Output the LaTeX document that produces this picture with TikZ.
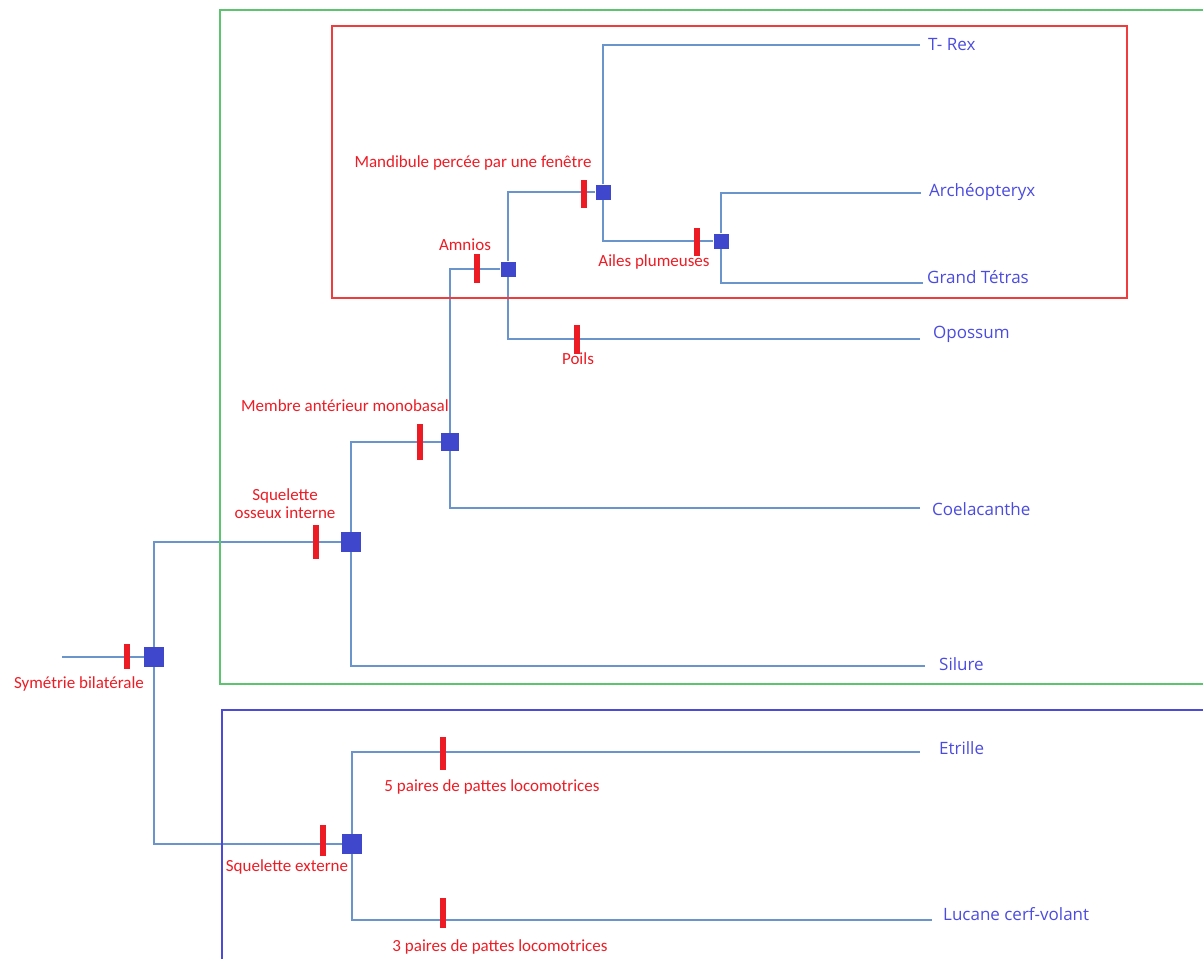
\documentclass[tikz,border=0pt]{standalone}
\usepackage{fontspec}
\setmainfont{Carlito}
\newfontfamily\leaffont{Open Sans}
\usetikzlibrary{backgrounds}
\definecolor{lred}{HTML}{ED1C24}
\definecolor{sqblue}{HTML}{3F48CC}
\definecolor{brline}{HTML}{6A94CC}
\definecolor{leafblue}{HTML}{4B4BE0}
\definecolor{boxgreen}{HTML}{5CC46E}
\definecolor{boxred}{HTML}{F03C3C}
\definecolor{boxblue}{HTML}{4B4BD8}
\tikzset{
  br/.style={draw=brline, line width=1.3pt},
  sq/.style={rectangle, fill=sqblue, draw=none, inner sep=0pt, minimum width=#1, minimum height=#1},
  bar/.style={rectangle, fill=lred, draw=none, inner sep=0pt, minimum width=6pt, minimum height=#1},
  lab/.style={text=lred, font=\fontsize{17}{18}\selectfont, inner sep=0pt, align=center},
  leaf/.style={text=leafblue, font=\leaffont\fontsize{17}{20}\selectfont, inner sep=0pt, anchor=west},
}
\begin{document}
\begin{tikzpicture}[x=1pt,y=-1pt]
\useasboundingbox (0,0) rectangle (1203,959);
\clip (0,0) rectangle (1203,959);
% clade boxes
\draw[boxgreen, line width=1.3pt] (220,10) rectangle (1215,684);
\draw[boxblue, line width=1.3pt] (222,710) rectangle (1215,975);
\draw[boxred, line width=1.3pt] (332,26) rectangle (1127,298);
% square nodes
\node[sq=20pt] (n0) at (154,657) {};
\node[sq=20pt] (n1) at (351,542) {};
\node[sq=18pt] (n2) at (450,442) {};
\node[sq=15pt] (n3) at (508,269) {};
\node[sq=15pt] (n4) at (603,192) {};
\node[sq=15pt] (n5) at (721,241) {};
\node[sq=20pt] (n8) at (352,844) {};
% ends
\coordinate (r0) at (62,657);
\coordinate (eTR) at (920,45);
\coordinate (eAR) at (921,193);
\coordinate (eGT) at (923,283);
\coordinate (eOP) at (920,339);
\coordinate (eCO) at (920,508);
\coordinate (eSI) at (925,666);
\coordinate (eET) at (920,752);
\coordinate (eLU) at (932,920);
% branches
\begin{scope}[on background layer]
\draw[br] (r0) -- (n0);
\draw[br] (n0) |- (n1);
\draw[br] (n0) |- (n8);
\draw[br] (n1) |- (n2);
\draw[br] (n1) |- (eSI);
\draw[br] (n2) |- (n3);
\draw[br] (n2) |- (eCO);
\draw[br] (n3) |- (n4);
\draw[br] (n3) |- (eOP);
\draw[br] (n4) |- (eTR);
\draw[br] (n4) |- (n5);
\draw[br] (n5) |- (eAR);
\draw[br] (n5) |- (eGT);
\draw[br] (n8) |- (eET);
\draw[br] (n8) |- (eLU);
\end{scope}
% character bars
\node[bar=25pt] (b0) at (127,656) {};
\node[bar=34pt] (b1) at (316,542) {};
\node[bar=36pt] (b2) at (420,442) {};
\node[bar=29pt] (b3) at (477,268) {};
\node[bar=28pt] (b4) at (584,194) {};
\node[bar=28pt] (b5) at (697,242) {};
\node[bar=29pt] (bP) at (577,339) {};
\node[bar=31pt] (b8) at (323,840) {};
\node[bar=33pt] (bE) at (443,753) {};
\node[bar=30pt] (bL) at (443,913) {};
% character labels
\node[lab] (l0) at (79,684) {Symétrie bilatérale};
\node[lab] (l1) at (285,504) {Squelette\\osseux interne};
\node[lab] (l2) at (345,406) {Membre antérieur monobasal};
\node[lab] (l3) at (465,245) {Amnios};
\node[lab] (l4) at (473,163) {Mandibule percée par une fenêtre};
\node[lab] (l5) at (654,262) {Ailes plumeuses};
\node[lab] (lP) at (578,359) {Poils};
\node[lab] (l8) at (287,867) {Squelette externe};
\node[lab] (lE) at (492,787) {5 paires de pattes locomotrices};
\node[lab] (lL) at (500,947) {3 paires de pattes locomotrices};
% taxa
\node[leaf] (tTR) at (928,45) {T- Rex};
\node[leaf] (tAR) at (929,192) {Archéopteryx};
\node[leaf] (tGT) at (927,277) {Grand Tétras};
\node[leaf] (tOP) at (933,334) {Opossum};
\node[leaf] (tCO) at (932,509) {Coelacanthe};
\node[leaf] (tSI) at (939,664) {Silure};
\node[leaf] (tET) at (939,748) {Etrille};
\node[leaf] (tLU) at (943,914) {Lucane cerf-volant};
\end{tikzpicture}
\end{document}
